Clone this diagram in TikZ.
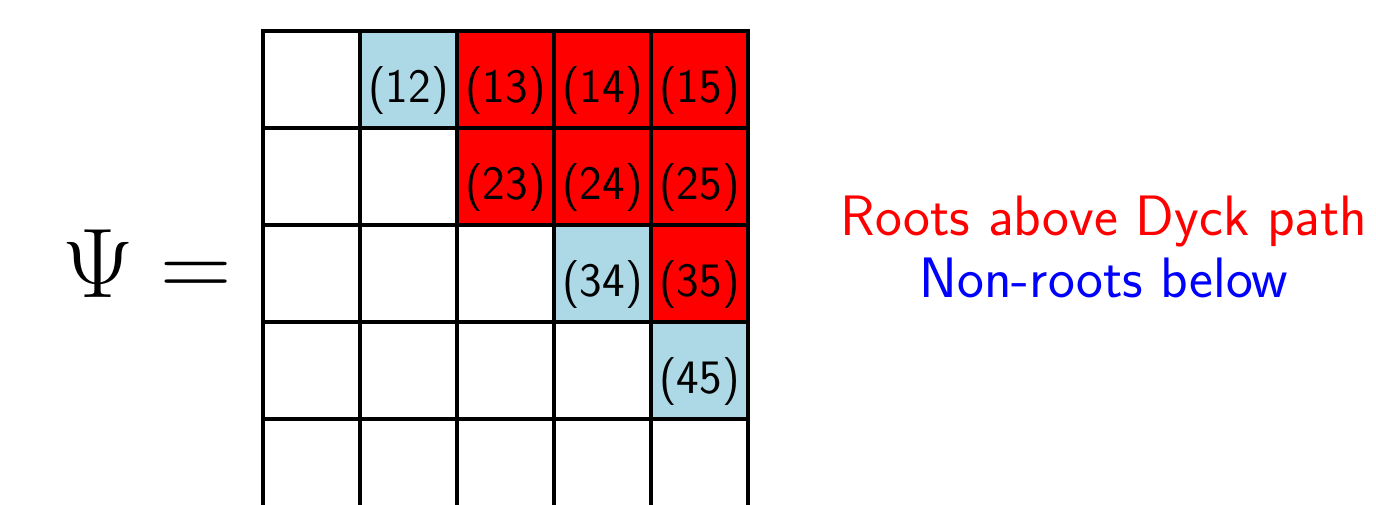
\RequirePackage{fix-cm}
\documentclass[tikz,border=0pt]{standalone}
\tikzset{
  gridline/.style={line width=4pt, line cap=rect, black},
  celllabel/.style={font=\sffamily\fontsize{48}{56}\selectfont, inner sep=0pt, anchor=base, text=black},
  sidetext/.style={font=\sffamily\fontsize{57}{62}\selectfont, inner sep=0pt, anchor=base},
  lb/.style={fill={rgb,255:red,173;green,216;blue,230}},
  rd/.style={fill=red}
}
\begin{document}
\begin{tikzpicture}[x=1pt,y=-1pt]
\useasboundingbox (0,0) rectangle (1376,504);
% coloured cells
\foreach \r/\c/\s in {1/2/lb,1/3/rd,1/4/rd,1/5/rd,2/3/rd,2/4/rd,2/5/rd,3/4/lb,3/5/rd,4/5/lb}{
  \path[\s] ({263+97*(\c-1)},{31+97*(\r-1)}) rectangle ++(97,97);
  \node[celllabel] (l\r\c) at ({263+97*(\c-1)+48.5},{31+97*(\r-1)+71}) {(\r\c)};
}
% grid lines
\foreach \i in {0,...,5}{
  \draw[gridline] ({263+97*\i},31) -- ({263+97*\i},504);
}
\foreach \j in {0,...,4}{
  \draw[gridline] (263,{31+97*\j}) -- (748,{31+97*\j});
}
% Psi =
\node[inner sep=0pt, anchor=base west, font=\fontsize{99}{110}\selectfont] (psi) at (62,297) {$\Psi =$};
% side text
\node[sidetext, text=red] (roots) at (1104,235) {Roots above Dyck path};
\node[sidetext, text=blue] (nonroots) at (1104,297) {Non-roots below};
\end{tikzpicture}
\end{document}
